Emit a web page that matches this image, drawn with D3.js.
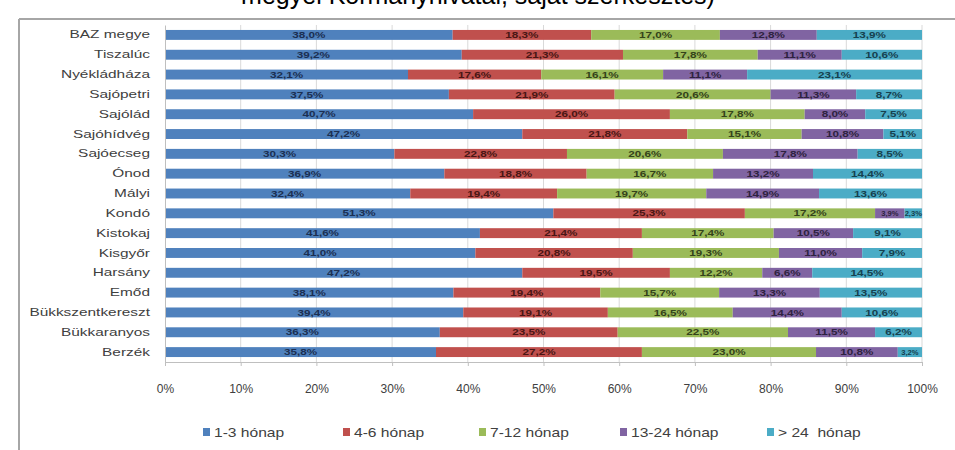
<!DOCTYPE html>
<html><head><meta charset="utf-8">
<script src="https://cdn.jsdelivr.net/npm/d3@7"></script>
<style>body{margin:0;background:#fff;}svg{display:block;font-family:"Liberation Sans",Arial,sans-serif;}</style>
</head><body>
<svg id="c" width="955" height="450"></svg>
<script>
const categories = ["BAZ megye","Tiszalúc","Nyékládháza","Sajópetri","Sajólád","Sajóhídvég","Sajóecseg","Ónod","Mályi","Kondó","Kistokaj","Kisgyőr","Harsány","Emőd","Bükkszentkereszt","Bükkaranyos","Berzék"];
const seriesNames = ["1-3 hónap","4-6 hónap","7-12 hónap","13-24 hónap","> 24  hónap"];
const s1 = [38.0,39.2,32.1,37.5,40.7,47.2,30.3,36.9,32.4,51.3,41.6,41.0,47.2,38.1,39.4,36.3,35.8];
const s2 = [18.3,21.3,17.6,21.9,26.0,21.8,22.8,18.8,19.4,25.3,21.4,20.8,19.5,19.4,19.1,23.5,27.2];
const s3 = [17.0,17.8,16.1,20.6,17.8,15.1,20.6,16.7,19.7,17.2,17.4,19.3,12.2,15.7,16.5,22.5,23.0];
const s4 = [12.8,11.1,11.1,11.3,8.0,10.8,17.8,13.2,14.9,3.9,10.5,11.0,6.6,13.3,14.4,11.5,10.8];
const s5 = [13.9,10.6,23.1,8.7,7.5,5.1,8.5,14.4,13.6,2.3,9.1,7.9,14.5,13.5,10.6,6.2,3.2];
const tickValues = [0,10,20,30,40,50,60,70,80,90,100];
const colors = ["#4F81BD","#C0504D","#9BBB59","#8064A2","#4BACC6"];
const labelColors = ["#1b2f52","#4a1614","#34431a","#2e2240","#16414f"];

(function(){
const svg = d3.select("#c");
const SX = 1.4;
svg.append("text").attr("x",478).attr("y",4).attr("text-anchor","middle")
  .attr("font-size",25).attr("fill","#000").text("megyei Kormányhivatal, saját szerkesztés)");
svg.append("line").attr("x1",19).attr("x2",955).attr("y1",19).attr("y2",19).attr("stroke","#a6a6a6").attr("stroke-width",2);
svg.append("line").attr("x1",19).attr("x2",19).attr("y1",19).attr("y2",450).attr("stroke","#a6a6a6").attr("stroke-width",2);

const pl=165, pr=922, pt=25, pb=362;
const x = d3.scaleLinear().domain([0,100]).range([pl,pr]);
const y = d3.scaleBand().domain(categories).range([pt,pb]).paddingInner(0.5).paddingOuter(0.25);

svg.append("g").selectAll("line").data(tickValues.slice(1)).join("line")
  .attr("x1",d=>x(d)).attr("x2",d=>x(d)).attr("y1",pt).attr("y2",pb)
  .attr("stroke","#d9d9d9").attr("stroke-width",1);

const series = [s1,s2,s3,s4,s5];
const rows = categories.map((c,i)=>{ const o={cat:c}; series.forEach((s,k)=>o["k"+k]=s[i]); return o;});
const stack = d3.stack().keys(series.map((s,k)=>"k"+k))(rows);

const g = svg.append("g");
stack.forEach((layer,k)=>{
  g.append("g").selectAll("rect").data(layer).join("rect")
    .attr("x",d=>x(d[0])).attr("width",d=>x(d[1])-x(d[0]))
    .attr("y",d=>y(d.data.cat)).attr("height",y.bandwidth())
    .attr("fill",colors[k]);
});
stack.forEach((layer,k)=>{
  g.append("g").selectAll("text").data(layer).join("text")
    .attr("transform",d=>{
      const w = x(d[1])-x(d[0]);
      const s = w < 32 ? 0.95 : 1.3;
      return `translate(${x((d[0]+d[1])/2)},${y(d.data.cat)+y.bandwidth()/2}) scale(${s},1)`;})
    .attr("dy","0.35em").attr("text-anchor","middle")
    .attr("font-size",d=>(x(d[1])-x(d[0]))<32?8:9).attr("font-weight","bold").attr("fill",labelColors[k])
    .text(d=>d3.format(".1f")(d[1]-d[0]).replace(".",",")+"%");
});

const ya = svg.append("g").attr("transform",`translate(${pl},0)`)
  .call(d3.axisLeft(y).tickSize(0).tickPadding(0));
ya.select(".domain").attr("stroke","#bfbfbf");
ya.selectAll(".tick text").attr("x",-15/SX).attr("transform",`scale(${SX},1)`)
  .attr("font-size",11).attr("fill","#404040").attr("font-family","Liberation Sans, Arial");

const xa = svg.append("g").attr("transform",`translate(0,${pb})`)
  .call(d3.axisBottom(x).tickValues(tickValues).tickSize(4).tickPadding(18).tickFormat(d=>d+"%"));
xa.select(".domain").attr("stroke","#bfbfbf");
xa.selectAll("line").attr("stroke","#bfbfbf");
xa.selectAll("text").attr("font-size",12).attr("fill","#404040").attr("font-family","Liberation Sans, Arial");

const legX = [203,343,479,620,767];
const leg = svg.append("g").selectAll("g").data(seriesNames).join("g")
  .attr("transform",(d,i)=>`translate(${legX[i]},432)`);
leg.append("rect").attr("x",0).attr("y",-4).attr("width",7).attr("height",8).attr("fill",(d,i)=>colors[i]);
leg.append("text").attr("x",11/1.2).attr("y",0).attr("transform","scale(1.2,1)").attr("dy","0.35em").attr("font-size",13).attr("fill","#404040")
  .style("white-space","pre").text(d=>d);
})();
</script>
</body></html>
